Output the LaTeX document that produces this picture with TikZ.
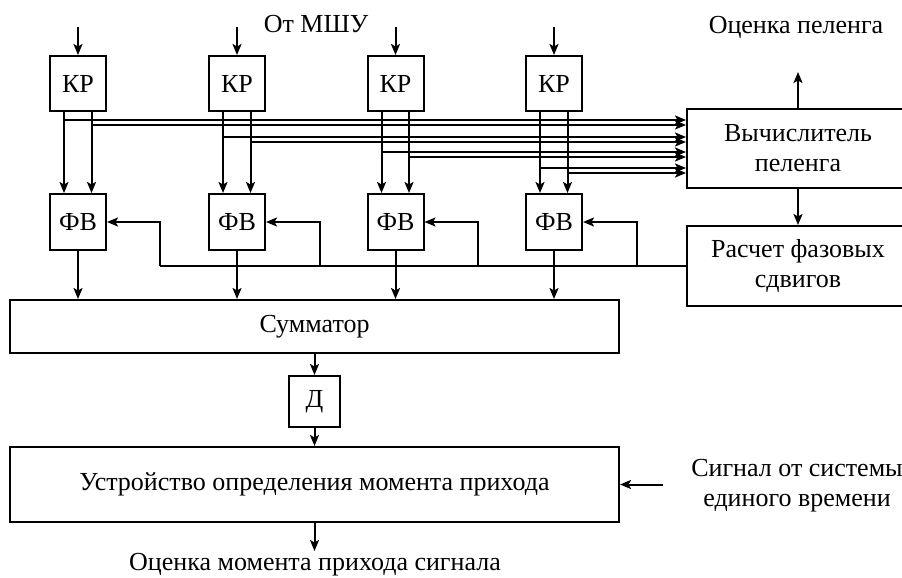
\documentclass[tikz,border=0pt]{standalone}
\usepackage{fontspec}
\setmainfont{Liberation Serif}
\usetikzlibrary{arrows.meta}
\newcommand\bigf{\fontsize{26}{30}\selectfont}
\begin{document}
\begin{tikzpicture}[x=1pt,y=-1pt,
  every node/.style={font=\bigf},
  blk/.style={draw,line width=2pt,inner sep=0pt,align=center},
  smallbox/.style={blk,minimum width=56pt,minimum height=55pt},
  lbl/.style={inner sep=0pt,align=center},
  conn/.style={line width=2pt},
  arr/.style={conn,-{Stealth[length=11pt,width=9pt,inset=2.5pt]}}]
\clip (0,0) rectangle (902,578);
% boxes
\foreach \i/\x in {1/78,2/237,3/395.5,4/554}{
  \node[smallbox] (kr\i) at (\x,83.5) {КР};
  \node[smallbox,minimum height=56pt] (fv\i) at (\x,222) {ФВ};
}
\node[blk,minimum width=609pt,minimum height=53pt] (sum) at (314.5,326.5) {Сумматор};
\node[blk,minimum width=51pt,minimum height=51pt] (d) at (314.5,401.5) {Д};
\node[blk,minimum width=609pt,minimum height=75pt] (ust) at (314.5,484.5) {Устройство определения момента прихода};
\node[blk,minimum width=222pt,minimum height=79pt] (calc) at (798,148.5) {Вычислитель\\пеленга};
\node[blk,minimum width=222pt,minimum height=80pt] (ras) at (798,266) {Расчет фазовых\\сдвигов};
% labels
\node[lbl] (msh) at (316,24) {От МШУ};
\node[lbl] (ocp) at (796,27) {Оценка пеленга};
\node[lbl] (sig) at (797,486) {Сигнал от системы\\единого времени};
\node[lbl] (ocm) at (315,565) {Оценка момента прихода сигнала};
% inputs to KR
\foreach \i in {1,...,4}{
  \coordinate (in\i) at (kr\i.north |- 0,27);
  \draw[arr] (in\i) -- (kr\i.north);
}
% KR outputs
\foreach \i/\ya/\yb in {1/120/125,2/137/142,3/152/157,4/168/173}{
  \coordinate (kl\i) at ([xshift=-14pt]kr\i.south);
  \coordinate (kr\i r) at ([xshift=13.5pt]kr\i.south);
  \draw[arr] (kl\i) -- (kl\i |- fv\i.north);
  \draw[arr] (kr\i r) -- (kr\i r |- fv\i.north);
  \draw[arr] (kl\i |- 0,\ya) -- (calc.west |- 0,\ya);
  \draw[arr] (kr\i r |- 0,\yb) -- (calc.west |- 0,\yb);
}
% calc outputs
\coordinate (up) at (calc.north |- 0,72);
\draw[arr] (calc.north) -- (up);
\draw[arr] (calc.south) -- (ras.north);
% bus
\coordinate (b1) at (160,266);
\coordinate (b2) at (320,266);
\coordinate (b3) at (478,266);
\coordinate (b4) at (637,266);
\draw[conn] (ras.west) -- (b1);
\foreach \i in {1,...,4}{
  \draw[arr] (b\i) -- (b\i |- fv\i.east) -- (fv\i.east);
  \draw[arr] (fv\i.south) -- (fv\i.south |- sum.north);
}
\draw[arr] (sum.south) -- (d.north);
\draw[arr] (d.south) -- (ust.north);
\coordinate (out) at (ust.south |- 0,551);
\draw[arr] (ust.south) -- (out);
\coordinate (sin) at (663,484.5);
\draw[arr] (sin) -- (ust.east);
\end{tikzpicture}
\end{document}
